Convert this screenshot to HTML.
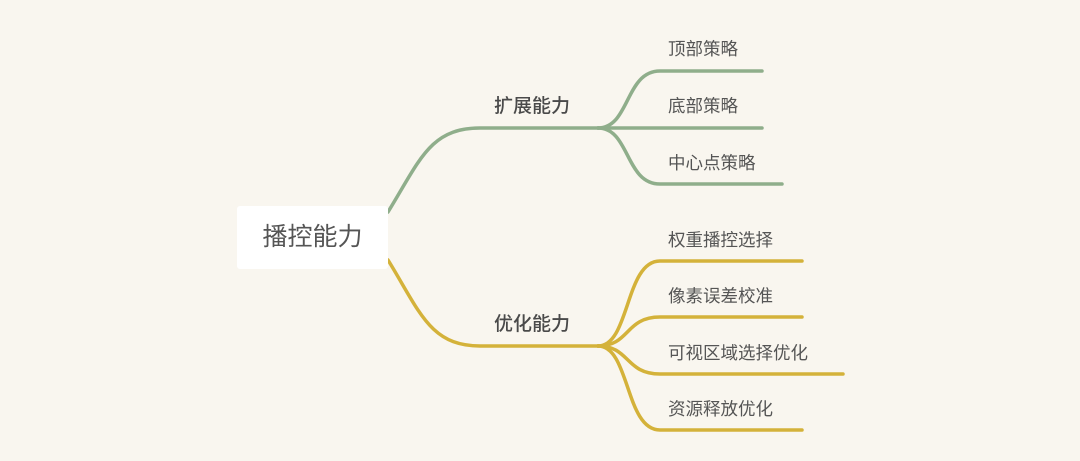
<!DOCTYPE html><html><head><meta charset="utf-8"><style>
body{margin:0;width:1080px;height:461px;background:#f9f6ef;overflow:hidden;position:relative;font-family:"Liberation Sans","Noto Sans CJK SC",sans-serif;color:#555}
.t{position:absolute;font-size:17.5px;white-space:nowrap;line-height:20px}
.b{position:absolute;font-size:19px;font-weight:500;line-height:20px;color:#4a4a4a}
#root{position:absolute;left:237px;top:206px;width:151px;height:63px;background:#fff;border-radius:3px;font-size:25px;line-height:63px;text-align:center;color:#555}
</style></head><body>
<svg width="1080" height="461" style="position:absolute;left:0;top:0" fill="none" stroke-width="3.5" stroke-linecap="round">
<g stroke="#8fae8b">
<path d="M388 212 C420 160,430 128,480 128 L598 128"/>
<path d="M598 128 C630 128,625 71,660 71 L762 71"/>
<path d="M598 128 L762 128"/>
<path d="M598 128 C630 128,625 184,660 184 L782 184"/>
</g>
<g stroke="#d4b23a">
<path d="M388 260 C420 312,430 346,480 346 L598 346"/>
<path d="M598 346 C630 346,625 261,660 261 L802 261"/>
<path d="M598 346 C630 346,625 317,660 317 L802 317"/>
<path d="M598 346 C630 346,625 374,660 374 L843 374"/>
<path d="M598 346 C630 346,625 430,660 430 L802 430"/>
</g>
</svg>
<div id="root">播控能力</div>
<div class="b" style="left:494px;top:97px">扩展能力</div>
<div class="b" style="left:494px;top:315px">优化能力</div>
<div class="t" style="left:668px;top:39px">顶部策略</div>
<div class="t" style="left:668px;top:96px">底部策略</div>
<div class="t" style="left:668px;top:153px">中心点策略</div>
<div class="t" style="left:668px;top:230px">权重播控选择</div>
<div class="t" style="left:668px;top:286px">像素误差校准</div>
<div class="t" style="left:668px;top:343px">可视区域选择优化</div>
<div class="t" style="left:668px;top:399px">资源释放优化</div>
</body></html>
